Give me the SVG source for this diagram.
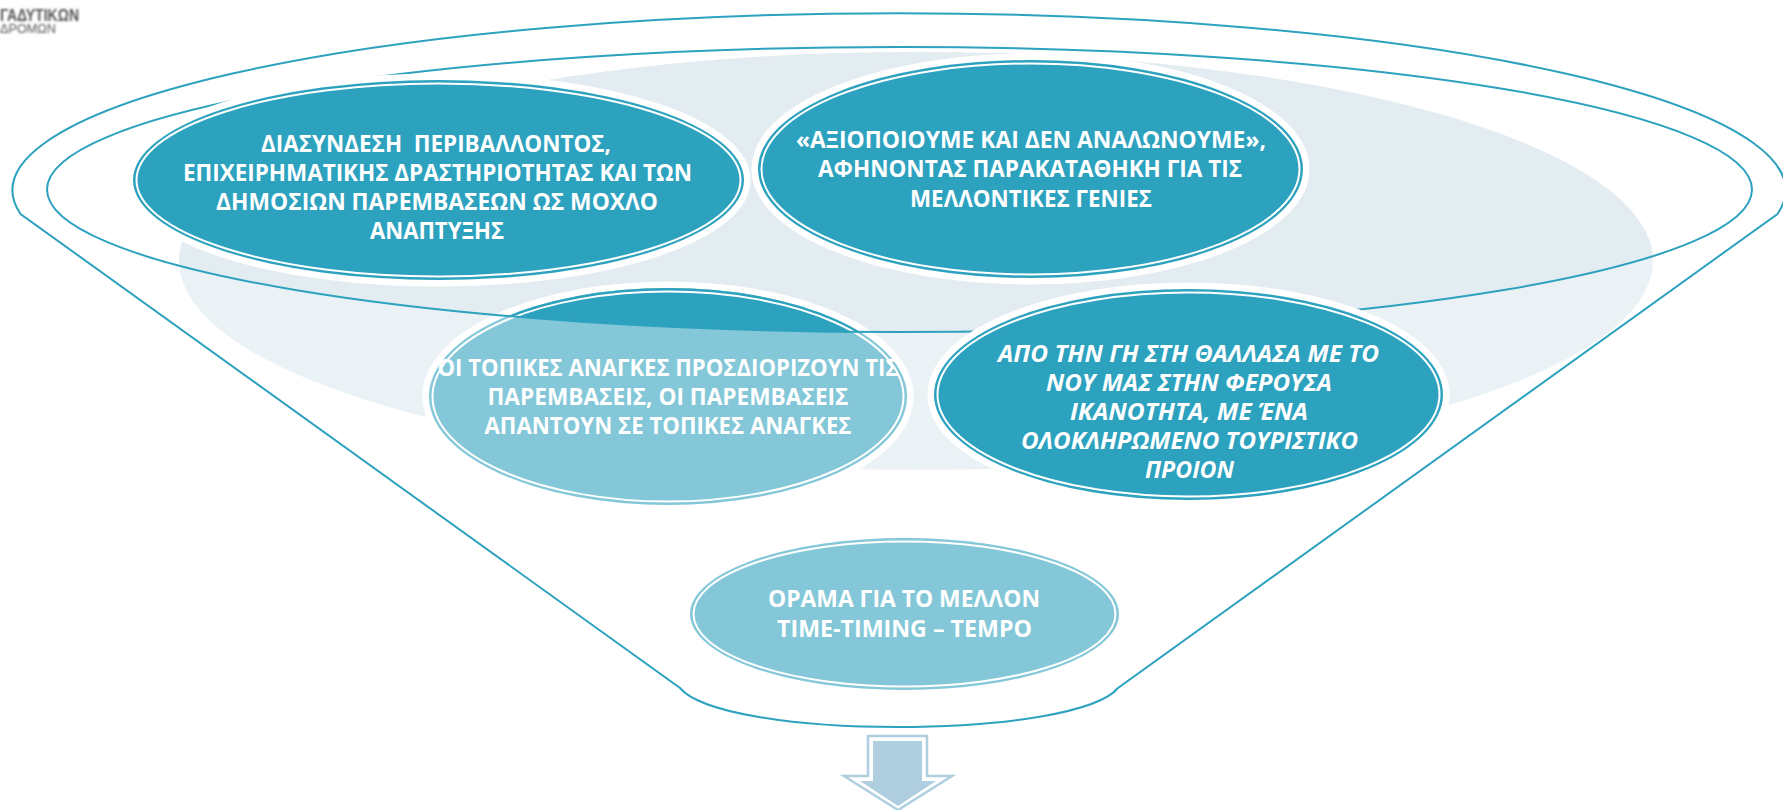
<svg xmlns="http://www.w3.org/2000/svg" width="1783" height="810" viewBox="0 0 1783 810">
<style>
.line{fill:none;stroke:#2DA2BF;stroke-width:2}
.halo{fill:#fff;stroke:#fff;stroke-width:13}
.dark{fill:#2DA2BF}
.pale{fill:#83C7D8}
.gap{fill:none;stroke:#fff;stroke-width:2}
text{font-family:"Open Sans","Noto Sans",sans-serif;font-weight:700;font-size:23px;fill:#fff;text-anchor:middle}
.it{font-style:italic}
.logo{fill:#555;text-anchor:start;font-family:"Liberation Sans",sans-serif}
</style>
<defs>
<clipPath id="innerClip"><ellipse cx="899.5" cy="189.5" rx="852.5" ry="142.5"/></clipPath>
<filter id="soft" x="-5%" y="-20%" width="110%" height="140%"><feGaussianBlur stdDeviation="0.8"/></filter>
</defs>
<g id="logo" filter="url(#soft)">
<text class="logo" x="0" y="21" style="font-size:17px" textLength="79" lengthAdjust="spacingAndGlyphs">ΓΑΔΥΤΙΚΩΝ</text>
<text class="logo" x="0" y="33" style="font-size:13px;font-weight:400" textLength="56" lengthAdjust="spacingAndGlyphs">ΔΡΟΜΩΝ</text>
</g>
<g id="backdrop">
<ellipse cx="916" cy="261" rx="737" ry="209" fill="#EBF2F6"/>
<ellipse cx="916" cy="261" rx="737" ry="209" fill="#E3ECF1" clip-path="url(#innerClip)"/>
</g>
<g id="node-3">
<ellipse class="halo" cx="668" cy="396.500" rx="239" ry="108.500"/>
<ellipse class="pale" cx="668" cy="396.500" rx="239" ry="108.500"/>
<ellipse class="dark" cx="668" cy="396.500" rx="239" ry="108.500" clip-path="url(#innerClip)"/>
<ellipse class="gap" cx="668" cy="396.500" rx="235.500" ry="105"/>
<text x="668" y="376" textLength="461" lengthAdjust="spacingAndGlyphs">ΟΙ ΤΟΠΙΚΕΣ ΑΝΑΓΚΕΣ ΠΡΟΣΔΙΟΡΙΖΟΥΝ ΤΙΣ</text>
<text x="668" y="405" textLength="361" lengthAdjust="spacingAndGlyphs">ΠΑΡΕΜΒΑΣΕΙΣ, ΟΙ ΠΑΡΕΜΒΑΣΕΙΣ</text>
<text x="668" y="434" textLength="367" lengthAdjust="spacingAndGlyphs">ΑΠΑΝΤΟΥΝ ΣΕ ΤΟΠΙΚΕΣ ΑΝΑΓΚΕΣ</text>
</g>
<g id="connectors">
<path id="funnel" class="line" d="M20.500 214 A886.500 177 0 1 1 1777.500 214 L1118 688 C1098 712 1006 727 898 727 C790 727 700 712 680 688 Z"/>
<ellipse id="funnel-rim" class="line" cx="899.500" cy="189.500" rx="852.500" ry="142.500"/>
<g id="down-arrow">
<path d="M868 736 H927 V776 H952 L898 810 L844 776 H868 Z" fill="#fff" stroke="#AFCEDF" stroke-width="2.500"/>
<path d="M873 741 H922 V781 H936 L898 806 L860 781 H873 Z" fill="#AFCEDF"/>
</g>
</g>
<g id="node-1">
<ellipse class="halo" cx="438.500" cy="180" rx="305.500" ry="100"/>
<ellipse class="dark" cx="438.500" cy="180" rx="305.500" ry="100"/>
<ellipse class="gap" cx="438.500" cy="180" rx="302" ry="96.500"/>
<text x="436" y="152" xml:space="preserve" textLength="350" lengthAdjust="spacingAndGlyphs">ΔΙΑΣΥΝΔΕΣΗ  ΠΕΡΙΒΑΛΛΟΝΤΟΣ,</text>
<text x="437.500" y="181" textLength="509" lengthAdjust="spacingAndGlyphs">ΕΠΙΧΕΙΡΗΜΑΤΙΚΗΣ ΔΡΑΣΤΗΡΙΟΤΗΤΑΣ ΚΑΙ ΤΩΝ</text>
<text x="437" y="210" textLength="442" lengthAdjust="spacingAndGlyphs">ΔΗΜΟΣΙΩΝ ΠΑΡΕΜΒΑΣΕΩΝ ΩΣ ΜΟΧΛΟ</text>
<text x="437" y="239" textLength="134" lengthAdjust="spacingAndGlyphs">ΑΝΑΠΤΥΞΗΣ</text>
</g>
<g id="node-2">
<ellipse class="halo" cx="1030.500" cy="169" rx="272.500" ry="109"/>
<ellipse class="dark" cx="1030.500" cy="169" rx="272.500" ry="109"/>
<ellipse class="gap" cx="1030.500" cy="169" rx="269" ry="105.500"/>
<text x="1031" y="148" textLength="470" lengthAdjust="spacingAndGlyphs">«ΑΞΙΟΠΟΙΟΥΜΕ ΚΑΙ ΔΕΝ ΑΝΑΛΩΝΟΥΜΕ»,</text>
<text x="1030" y="177" textLength="424" lengthAdjust="spacingAndGlyphs">ΑΦΗΝΟΝΤΑΣ ΠΑΡΑΚΑΤΑΘΗΚΗ ΓΙΑ ΤΙΣ</text>
<text x="1031" y="207" textLength="242" lengthAdjust="spacingAndGlyphs">ΜΕΛΛΟΝΤΙΚΕΣ ΓΕΝΙΕΣ</text>
</g>
<g id="node-4">
<ellipse class="halo" cx="1188.500" cy="394.500" rx="254.500" ry="105.500"/>
<ellipse class="dark" cx="1188.500" cy="394.500" rx="254.500" ry="105.500"/>
<ellipse class="gap" cx="1188.500" cy="394.500" rx="251" ry="102"/>
<text class="it" x="1188.500" y="362" textLength="381" lengthAdjust="spacingAndGlyphs">ΑΠΟ ΤΗΝ ΓΗ ΣΤΗ ΘΑΛΛΑΣΑ ΜΕ ΤΟ</text>
<text class="it" x="1189" y="391" textLength="286" lengthAdjust="spacingAndGlyphs">ΝΟΥ ΜΑΣ ΣΤΗΝ ΦΕΡΟΥΣΑ</text>
<text class="it" x="1189" y="420" textLength="238" lengthAdjust="spacingAndGlyphs">ΙΚΑΝΟΤΗΤΑ, ΜΕ ΈΝΑ</text>
<text class="it" x="1189.500" y="449" textLength="337" lengthAdjust="spacingAndGlyphs">ΟΛΟΚΛΗΡΩΜΕΝΟ ΤΟΥΡΙΣΤΙΚΟ</text>
<text class="it" x="1189.500" y="478" textLength="89" lengthAdjust="spacingAndGlyphs">ΠΡΟΙΟΝ</text>
</g>
<g id="node-5">
<ellipse class="pale" cx="904.500" cy="614" rx="214.500" ry="76"/>
<ellipse class="gap" cx="904.500" cy="614" rx="211" ry="72.500"/>
<text x="904" y="607" textLength="272" lengthAdjust="spacingAndGlyphs">ΟΡΑΜΑ ΓΙΑ ΤΟ ΜΕΛΛΟΝ</text>
<text x="904.500" y="637" textLength="255" lengthAdjust="spacingAndGlyphs">TIME-TIMING – ΤΕΜΡΟ</text>
</g>
</svg>
